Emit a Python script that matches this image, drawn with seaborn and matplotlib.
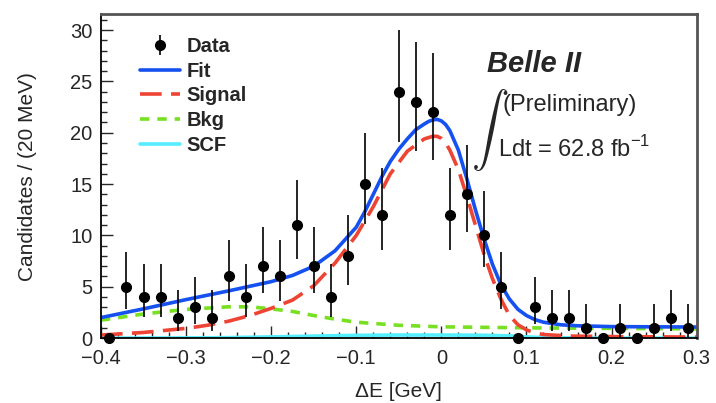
import matplotlib
matplotlib.use("Agg")
import matplotlib.pyplot as plt
import matplotlib.ticker as mticker
from matplotlib.lines import Line2D
import numpy as np
import seaborn as sns

# --- data ------------------------------------------------------------------
bin_centers = [-0.39, -0.37, -0.35, -0.33, -0.31, -0.29, -0.27, -0.25, -0.23,
               -0.21, -0.19, -0.17, -0.15, -0.13, -0.11, -0.09, -0.07, -0.05,
               -0.03, -0.01, 0.01, 0.03, 0.05, 0.07, 0.09, 0.11, 0.13, 0.15,
               0.17, 0.19, 0.21, 0.23, 0.25, 0.27, 0.29]
counts = [0, 5, 4, 4, 2, 3, 2, 6, 4, 7, 6, 11, 7, 4, 8, 15, 12, 24,
          23, 22, 12, 14, 10, 5, 0, 3, 2, 2, 1, 0, 1, 0, 1, 2, 1]

fit_x = [-0.40, -0.35, -0.30, -0.25, -0.20, -0.175, -0.15, -0.125, -0.10,
         -0.09, -0.08, -0.07, -0.06, -0.05, -0.04, -0.03, -0.02, -0.015,
         -0.01, -0.005, 0.0, 0.005, 0.01, 0.02, 0.03, 0.04, 0.05, 0.06,
         0.07, 0.08, 0.09, 0.10, 0.11, 0.12, 0.14, 0.16, 0.20, 0.25, 0.30]
fit_y = [2.0, 2.85, 3.75, 4.6, 5.5, 6.1, 7.0, 8.5, 10.8,
         12.3, 14.0, 15.7, 17.2, 18.4, 19.4, 20.3, 20.85, 21.1,
         21.25, 21.3, 21.15, 20.8, 20.2, 18.3, 15.5, 12.5, 9.7, 7.2,
         5.2, 3.8, 2.8, 2.2, 1.8, 1.55, 1.3, 1.2, 1.12, 1.1, 1.08]

sig_x = [-0.40, -0.35, -0.30, -0.275, -0.25, -0.225, -0.20, -0.175, -0.15,
         -0.125, -0.10, -0.08, -0.06, -0.04, -0.02, -0.01, -0.005, 0.0,
         0.005, 0.01, 0.02, 0.03, 0.04, 0.05, 0.06, 0.07, 0.08, 0.09, 0.10,
         0.11, 0.12, 0.15, 0.20, 0.30]
sig_y = [0.3, 0.55, 0.95, 1.25, 1.65, 2.2, 2.9, 3.7, 5.1,
         7.3, 10.0, 12.8, 16.0, 18.2, 19.4, 19.65, 19.65, 19.45,
         19.0, 18.3, 16.4, 13.8, 11.0, 8.2, 5.8, 3.8, 2.2, 1.3, 0.8,
         0.5, 0.35, 0.2, 0.15, 0.1]

bkg_x = [-0.40, -0.35, -0.30, -0.25, -0.225, -0.20, -0.175, -0.15, -0.125,
         -0.10, -0.05, 0.0, 0.05, 0.10, 0.20, 0.30]
bkg_y = [1.75, 2.35, 2.8, 3.05, 3.05, 2.85, 2.6, 2.2, 1.85,
         1.55, 1.25, 1.1, 1.05, 1.0, 0.95, 0.9]

scf_x = [-0.40, -0.30, -0.25, -0.20, -0.15, -0.10, -0.05, 0.0, 0.05, 0.08,
         0.10, 0.12, 0.15, 0.20, 0.30]
scf_y = [0.0, 0.02, 0.05, 0.12, 0.2, 0.27, 0.3, 0.3, 0.28, 0.22,
         0.12, 0.05, 0.02, 0.0, 0.0]

# --- style ------------------------------------------------------------------
sns.set_style("ticks")
plt.rcParams["font.family"] = ["Liberation Sans", "DejaVu Sans"]
plt.rcParams["mathtext.fontset"] = "custom"
plt.rcParams["mathtext.rm"] = "Liberation Sans"

c_fit = "#1550f0"
c_sig = "#ee4433"
c_bkg = "#77e022"
c_scf = "#55eeff"
dash_sig = (0, (6, 2.6))
dash_bkg = (0, (2.6, 2.2))
lw = 2.6

fig = plt.figure(figsize=(7.16, 4.03), dpi=100)
ax = fig.add_axes([0.141, 0.161, 0.832, 0.804])

# Poisson (Gehrels) error bars, none for empty bins
n = np.array(counts, dtype=float)
err_hi = np.where(n > 0, np.sqrt(n + 0.75) + 1.0, 0.0)
err_lo = np.where(n > 0, np.sqrt(np.clip(n - 0.25, 0, None)), 0.0)

sns.lineplot(x=scf_x, y=scf_y, color=c_scf, lw=lw, ax=ax, zorder=2)
sns.lineplot(x=bkg_x, y=bkg_y, color=c_bkg, lw=lw, linestyle=dash_bkg,
             ax=ax, zorder=2)
sns.lineplot(x=sig_x, y=sig_y, color=c_sig, lw=lw, linestyle=dash_sig,
             ax=ax, zorder=2)
sns.lineplot(x=fit_x, y=fit_y, color=c_fit, lw=lw, ax=ax, zorder=2)

data_h = ax.errorbar(bin_centers, counts, yerr=[err_lo, err_hi], fmt="o",
                     color="black", ms=7, elinewidth=1.2, capsize=0, zorder=4,
                     clip_on=False)

ax.set_xlim(-0.4, 0.3)
ax.set_ylim(0, 31.55)

ax.xaxis.set_major_locator(mticker.MultipleLocator(0.1))
ax.xaxis.set_minor_locator(mticker.MultipleLocator(0.02))
ax.yaxis.set_major_locator(mticker.MultipleLocator(5))
ax.yaxis.set_minor_locator(mticker.MultipleLocator(1))
ax.xaxis.set_major_formatter(mticker.FuncFormatter(
    lambda v, _: "0" if abs(v) < 1e-9 else f"{v:.1f}".replace("-", "\u2212")))
ax.tick_params(which="both", direction="in", labelsize=14.5, top=False, right=False)
ax.tick_params(which="major", length=8.5, width=1.0)
ax.tick_params(which="minor", length=4.5, width=1.0)
ax.tick_params(axis="y", pad=6)
ax.tick_params(axis="x", pad=8)

for side in ["left", "bottom"]:
    ax.spines[side].set_color("black")
    ax.spines[side].set_linewidth(1.3)
for side in ["top", "right"]:
    ax.spines[side].set_color("#555555")
    ax.spines[side].set_linewidth(2.0)

ax.set_xlabel("\u0394E [GeV]", fontsize=15, labelpad=10)
ax.set_ylabel("Candidates / (20 MeV)", fontsize=15, labelpad=24)

handles = [data_h,
           Line2D([], [], color=c_fit, lw=lw),
           Line2D([], [], color=c_sig, lw=lw, linestyle=dash_sig),
           Line2D([], [], color=c_bkg, lw=lw, linestyle=dash_bkg),
           Line2D([], [], color=c_scf, lw=lw)]
labels = ["Data", "Fit", "Signal", "Bkg", "SCF"]
ax.legend(handles, labels, loc="upper left", bbox_to_anchor=(0.035, 0.985),
          frameon=False, handlelength=2.0, handletextpad=0.3,
          labelspacing=0.28, prop={"weight": "bold", "size": 14.5})

ax.text(0.648, 0.845, "Belle II", transform=ax.transAxes, fontsize=21,
        fontweight="bold", fontstyle="italic", va="center", ha="left")
ax.text(0.652, 0.642, r"$\int$", transform=ax.transAxes, fontsize=27,
        math_fontfamily="cm", va="center", ha="center")
ax.text(0.674, 0.72, "(Preliminary)", transform=ax.transAxes, fontsize=17,
        va="center", ha="left")
ax.text(0.666, 0.585, r"Ldt = 62.8 fb$^{\mathregular{-1}}$", transform=ax.transAxes,
        fontsize=17, va="center", ha="left")

fig.savefig("out.png", dpi=100)
